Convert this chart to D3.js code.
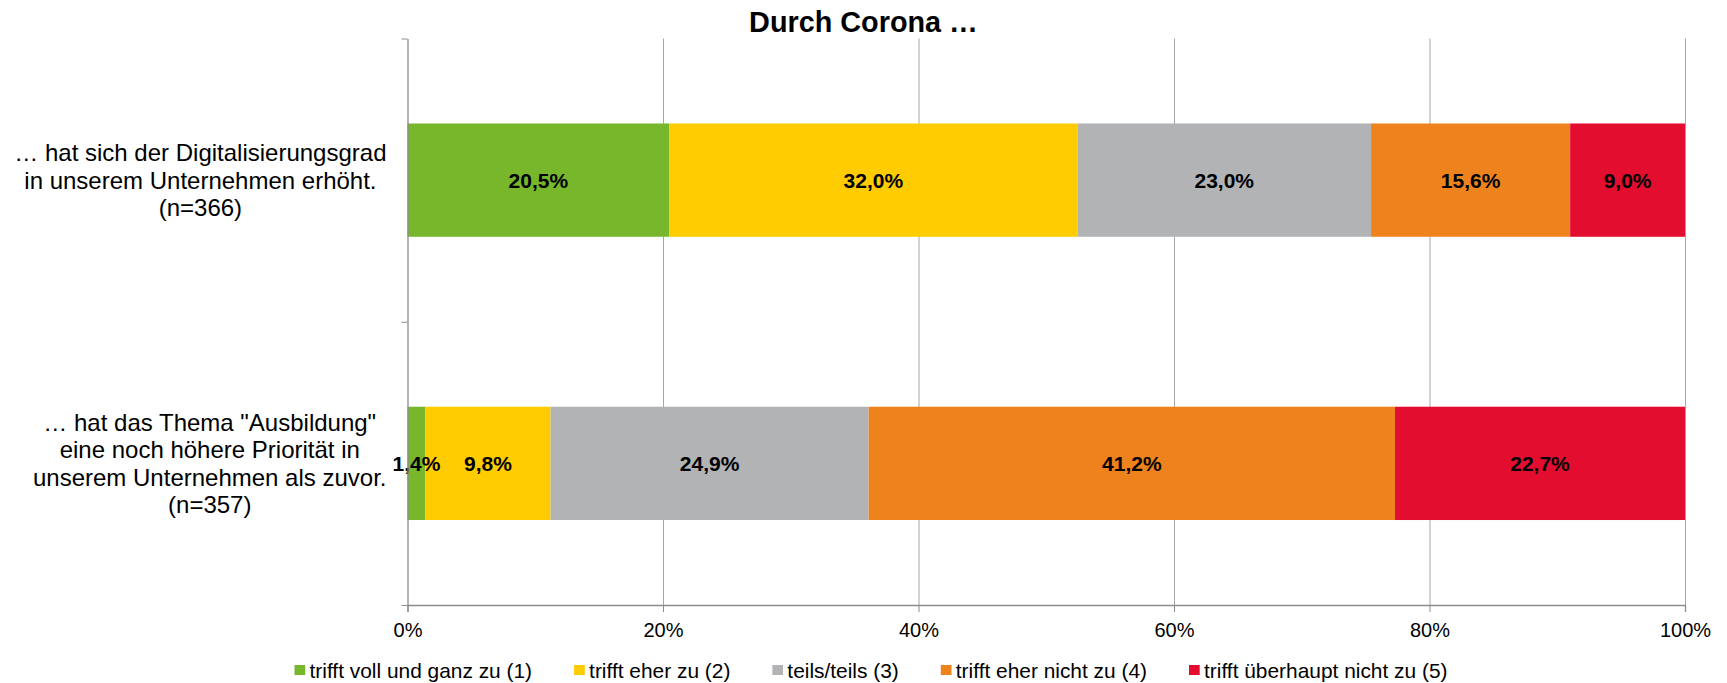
<!DOCTYPE html>
<html>
<head>
<meta charset="utf-8">
<script src="https://cdn.jsdelivr.net/npm/d3@7"></script>
<style>
  body { margin: 0; background: #fff; }
  svg { display: block; font-family: "Liberation Sans", Arial, sans-serif; }
</style>
</head>
<body>
<svg id="chart" width="1727" height="683"></svg>
<script>
var title = "Durch Corona …";

var categories = [
    ["… hat sich der Digitalisierungsgrad", "in unserem Unternehmen erhöht.", "(n=366)"],
    ["… hat das Thema \"Ausbildung\"", "eine noch höhere Priorität in", "unserem Unternehmen als zuvor.", "(n=357)"]
];

var seriesNames = ["trifft voll und ganz zu (1)", "trifft eher zu (2)", "teils/teils (3)", "trifft eher nicht zu (4)", "trifft überhaupt nicht zu (5)"];

// one array per answer, in category order
var vollUndGanz = [20.5, 1.4];
var eherZu = [32.0, 9.8];
var teilsTeils = [23.0, 24.9];
var eherNicht = [15.6, 41.2];
var ueberhauptNicht = [9.0, 22.7];

var xTicks = [0, 0.2, 0.4, 0.6, 0.8, 1];

(function() {
    var seriesValues = [vollUndGanz, eherZu, teilsTeils, eherNicht, ueberhauptNicht];

    var rows = categories.map(function(c, i) {
        var r = {cat: i};
        seriesNames.forEach(function(s, j) { r[s] = seriesValues[j][i]; });
        return r;
    });

    var svg = d3.select("#chart");
    var margin = {top: 38.5, right: 42, bottom: 78, left: 407.5};
    var width = +svg.attr("width") - margin.left - margin.right;
    var height = +svg.attr("height") - margin.top - margin.bottom;

    var color = d3.scaleOrdinal().domain(seriesNames)
        .range(["#78b72b", "#fecc00", "#b2b3b5", "#ee821c", "#e30e2f"]);

    var series = d3.stack().keys(seriesNames).offset(d3.stackOffsetExpand)(rows);

    var x = d3.scaleLinear().domain([0, 1]).range([0, width]);
    var y = d3.scaleBand().domain(d3.range(categories.length)).range([0, height])
        .paddingInner(0.6).paddingOuter(0.3);
    var yEdge = d3.scaleLinear().domain([0, categories.length]).range([0, height]);

    var locale = d3.formatLocale({decimal: ",", thousands: ".", grouping: [3], currency: ["", "€"]});
    var fmtVal = locale.format(".1f");

    var g = svg.append("g").attr("transform", "translate(" + margin.left + "," + margin.top + ")");

    // gridlines
    g.append("g").selectAll("line").data(xTicks.slice(1)).enter().append("line")
        .attr("x1", function(d) { return x(d) + 0.5; })
        .attr("x2", function(d) { return x(d) + 0.5; })
        .attr("y1", 0).attr("y2", height)
        .attr("stroke", "#a6a6a6").attr("stroke-width", 1);

    // bars
    var layer = g.append("g").selectAll("g").data(series).enter().append("g")
        .attr("fill", function(d) { return color(d.key); });

    layer.selectAll("rect").data(function(d) { return d; }).enter().append("rect")
        .attr("x", function(d) { return x(d[0]); })
        .attr("y", function(d) { return y(d.data.cat); })
        .attr("width", function(d) { return x(d[1]) - x(d[0]); })
        .attr("height", y.bandwidth());

    // value labels
    var labels = g.append("g");
    series.forEach(function(s) {
        s.forEach(function(d) {
            labels.append("text")
                .attr("x", x((d[0] + d[1]) / 2))
                .attr("y", y(d.data.cat) + y.bandwidth() / 2)
                .attr("dy", "0.36em")
                .attr("text-anchor", "middle")
                .attr("font-size", "21px")
                .attr("font-weight", "bold")
                .attr("fill", "#000")
                .text(fmtVal(d.data[s.key]) + "%");
        });
    });

    // x axis
    var xAxis = g.append("g").attr("transform", "translate(0," + height + ")")
        .call(d3.axisBottom(x).tickValues(xTicks).tickFormat(d3.format(".0%")).tickSize(7).tickPadding(11));
    xAxis.select(".domain").attr("stroke", "#8c8c8c").attr("stroke-width", 1.3);
    xAxis.selectAll(".tick line").attr("stroke", "#8c8c8c");
    xAxis.selectAll("text").attr("font-size", "20px").attr("fill", "#000")
        .attr("font-family", "Liberation Sans, Arial, sans-serif");

    // y axis (ticks at category boundaries)
    var yAxis = g.append("g")
        .call(d3.axisLeft(yEdge).tickValues(d3.range(categories.length + 1)).tickFormat("").tickSize(6).tickSizeOuter(0));
    yAxis.select(".domain").attr("stroke", "#8c8c8c").attr("stroke-width", 1.3);
    yAxis.selectAll(".tick line").attr("stroke", "#8c8c8c");

    // category labels: block right-aligned, lines centred
    var lineH = 27.4;
    var labelRight = -21;
    categories.forEach(function(lines, i) {
        var t = g.append("text")
            .attr("font-size", "24px")
            .attr("fill", "#000")
            .attr("text-anchor", "middle");
        var cy = y(i) + y.bandwidth() / 2;
        var spans = lines.map(function(l, k) {
            return t.append("tspan")
                .attr("y", cy + (k - (lines.length - 1) / 2) * lineH)
                .attr("dy", "0.36em")
                .text(l);
        });
        var maxW = d3.max(spans, function(s) { return s.node().getComputedTextLength(); });
        spans.forEach(function(s) { s.attr("x", labelRight - maxW / 2); });
    });

    // title
    svg.append("text")
        .attr("x", 863.5).attr("y", 32.3)
        .attr("text-anchor", "middle")
        .attr("font-size", "28.8px")
        .attr("font-weight", "bold")
        .text(title);

    // legend
    var legend = svg.append("g");
    var lx = 0, box = 10.7, gap = 4.3, itemGap = 42;
    seriesNames.forEach(function(s) {
        var item = legend.append("g").attr("transform", "translate(" + lx + ",0)");
        item.append("rect").attr("x", 0).attr("y", -5).attr("width", box).attr("height", 10)
            .attr("fill", color(s));
        var txt = item.append("text").attr("x", box + gap).attr("y", 0).attr("dy", "0.36em")
            .attr("font-size", "20.9px").attr("fill", "#000").text(s);
        lx += box + gap + txt.node().getComputedTextLength() + itemGap;
    });
    lx -= itemGap;
    legend.attr("transform", "translate(" + (871 - lx / 2) + ",670)");
}());
</script>
</body>
</html>
